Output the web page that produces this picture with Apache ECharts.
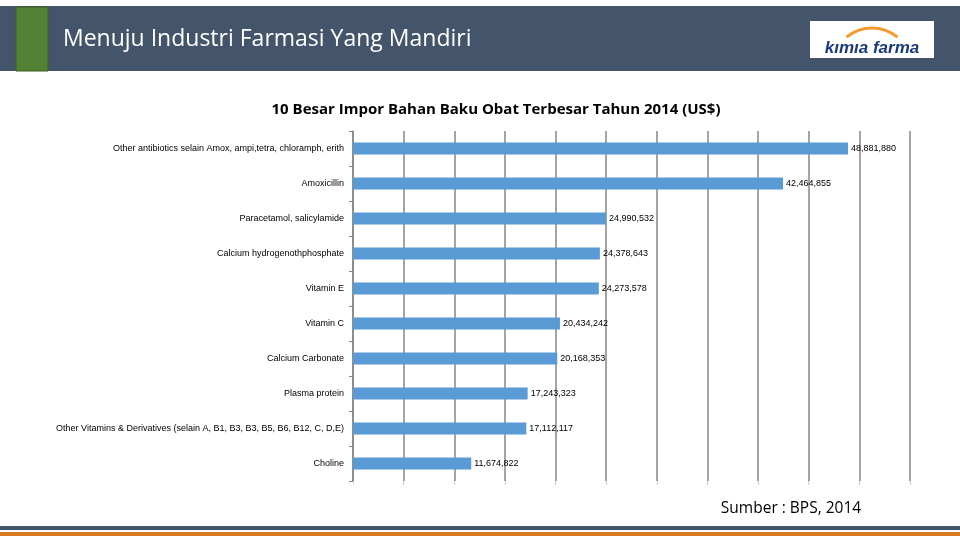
<!DOCTYPE html>
<html><head><meta charset="utf-8">
<script src="https://cdn.jsdelivr.net/npm/echarts@6/dist/echarts.min.js"></script>
<style>html,body{margin:0;padding:0;background:#fff}#c{width:960px;height:540px}</style>
</head><body><div id="c"></div>
<script>
const categories = [
  "Other antibiotics selain Amox, ampi,tetra, chloramph, erith",
  "Amoxicillin",
  "Paracetamol, salicylamide",
  "Calcium hydrogenothphosphate",
  "Vitamin E",
  "Vitamin C",
  "Calcium Carbonate",
  "Plasma protein",
  "Other Vitamins & Derivatives (selain A, B1, B3, B3, B5, B6, B12, C, D,E)",
  "Choline"
];
const values = [48881880, 42464855, 24990532, 24378643, 24273578, 20434242, 20168353, 17243323, 17112117, 11674822];
const chartTitle = "10 Besar Impor Bahan Baku Obat Terbesar Tahun 2014 (US$)";
const headerTitle = "Menuju Industri Farmasi Yang Mandiri";
const sourceText = "Sumber : BPS, 2014";
const logoText = "kımıa farma";

const chart = echarts.init(document.getElementById('c'));
chart.setOption({
  animation: false,
  title: {
    text: chartTitle, left: 491, top: 97, textAlign: 'center',
    textStyle: {fontFamily: 'Open Sans', fontSize: 15, fontWeight: 'bold', color: '#000'}
  },
  grid: {left: 353, top: 131, width: 557, height: 350, containLabel: false},
  xAxis: {
    type: 'value', min: 0, max: 55000000, interval: 5000000,
    axisLine: {show: false},
    axisTick: {show: true, length: 4, lineStyle: {color: '#d0d0d0'}},
    axisLabel: {show: false},
    splitLine: {show: true, lineStyle: {color: '#868686', width: 1.5}}
  },
  yAxis: {
    type: 'category', data: categories, inverse: true,
    axisLine: {show: true, lineStyle: {color: '#868686', width: 1.5}},
    axisTick: {show: true, length: 4, lineStyle: {color: '#868686'}},
    axisLabel: {fontFamily: 'Liberation Sans', fontSize: 9, color: '#000', margin: 9}
  },
  series: [{
    type: 'bar', data: values, barWidth: 12,
    itemStyle: {color: '#5B9BD5'},
    label: {
      show: true, position: 'right', distance: 3,
      fontFamily: 'Liberation Sans', fontSize: 9, color: '#000',
      formatter: p => p.value.toLocaleString('en-US')
    }
  }],
  graphic: [
    {type: 'rect', shape: {x: 0, y: 6, width: 960, height: 65}, style: {fill: '#44546A'}},
    {type: 'rect', shape: {x: 16, y: 7, width: 32, height: 64}, style: {fill: '#548235', stroke: '#3b5e25', lineWidth: 1}},
    {type: 'text', x: 63, y: 39, style: {text: headerTitle, fill: '#fff', fontFamily: 'Open Sans', fontSize: 23, verticalAlign: 'middle'}},
    {type: 'rect', shape: {x: 810, y: 21, width: 124, height: 37}, style: {fill: '#fff'}},
    {type: 'arc', shape: {cx: 872, cy: 68, r: 40, startAngle: Math.PI*1.28, endAngle: Math.PI*1.72}, style: {stroke: '#F29A2E', lineWidth: 3, fill: null}},
    {type: 'text', x: 872, y: 48, style: {text: logoText, fill: '#1B3A7A', fontFamily: 'Liberation Sans', fontSize: 17, fontWeight: 'bold', fontStyle: 'italic', align: 'center', verticalAlign: 'middle'}},
    {type: 'text', x: 791, y: 509, style: {text: sourceText, fill: '#000', fontFamily: 'Open Sans', fontSize: 15.5, align: 'center', verticalAlign: 'middle'}},
    {type: 'rect', shape: {x: 0, y: 526, width: 960, height: 4}, style: {fill: '#44546A'}},
    {type: 'rect', shape: {x: 0, y: 532, width: 960, height: 4}, style: {fill: '#D97A25'}}
  ]
});
</script></body></html>
